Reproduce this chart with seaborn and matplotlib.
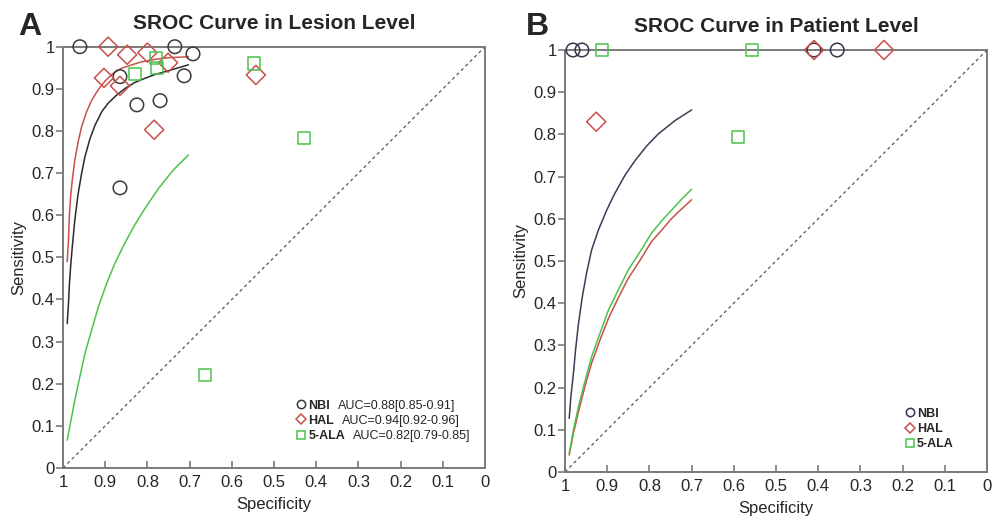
import numpy as np
import pandas as pd
import seaborn as sns
import matplotlib.pyplot as plt
from matplotlib.lines import Line2D

# ---- panel A: lesion level (specificity, sensitivity) ----
a_nbi_spec = [0.96, 0.865, 0.825, 0.77, 0.735, 0.865, 0.713, 0.692]
a_nbi_sens = [1.0, 0.929, 0.862, 0.872, 1.0, 0.665, 0.931, 0.983]
a_hal_spec = [0.893, 0.848, 0.80, 0.751, 0.903, 0.865, 0.784, 0.543]
a_hal_sens = [1.0, 0.981, 0.986, 0.962, 0.926, 0.907, 0.803, 0.933]
a_ala_spec = [0.829, 0.78, 0.777, 0.547, 0.429, 0.664]
a_ala_sens = [0.936, 0.974, 0.95, 0.96, 0.784, 0.221]

# SROC curves
a_nbi_curve_spec = [0.990, 0.987, 0.985, 0.982, 0.978, 0.972, 0.964, 0.956, 0.948, 0.936,
                    0.924, 0.908, 0.893, 0.873, 0.853, 0.830, 0.806, 0.782, 0.750, 0.703]
a_nbi_curve_sens = [0.343, 0.391, 0.434, 0.478, 0.525, 0.589, 0.652, 0.699, 0.739, 0.782,
                    0.814, 0.846, 0.866, 0.885, 0.901, 0.915, 0.925, 0.934, 0.943, 0.957]
a_hal_curve_spec = [0.990, 0.987, 0.985, 0.982, 0.978, 0.972, 0.964, 0.956, 0.944, 0.932,
                    0.916, 0.900, 0.881, 0.861, 0.837, 0.814, 0.782, 0.750, 0.703]
a_hal_curve_sens = [0.490, 0.541, 0.597, 0.644, 0.684, 0.731, 0.775, 0.810, 0.846, 0.873,
                    0.899, 0.919, 0.937, 0.949, 0.957, 0.964, 0.970, 0.974, 0.976]
a_ala_curve_spec = [0.990, 0.981, 0.972, 0.960, 0.948, 0.932, 0.916, 0.897, 0.877, 0.853,
                    0.830, 0.802, 0.774, 0.739, 0.703]
a_ala_curve_sens = [0.066, 0.114, 0.161, 0.217, 0.272, 0.328, 0.383, 0.437, 0.486, 0.535,
                    0.577, 0.622, 0.663, 0.707, 0.743]

# ---- panel B: patient level ----
b_nbi_spec = [0.981, 0.96, 0.41, 0.355]
b_nbi_sens = [1.0, 1.0, 1.0, 1.0]
b_hal_spec = [0.41, 0.244, 0.926]
b_hal_sens = [1.0, 1.0, 0.83]
b_ala_spec = [0.912, 0.557, 0.59]
b_ala_sens = [1.0, 1.0, 0.793]

b_nbi_curve_spec = [0.990, 0.986, 0.980, 0.975, 0.968, 0.959, 0.949, 0.937, 0.921, 0.901,
                    0.882, 0.858, 0.834, 0.806, 0.779, 0.739, 0.700]
b_nbi_curve_sens = [0.127, 0.179, 0.234, 0.289, 0.352, 0.415, 0.471, 0.526, 0.573, 0.621,
                    0.660, 0.703, 0.738, 0.773, 0.801, 0.833, 0.858]
b_hal_curve_spec = [0.990, 0.980, 0.968, 0.953, 0.937, 0.917, 0.897, 0.874, 0.850, 0.822,
                    0.795, 0.771, 0.747, 0.724, 0.700]
b_hal_curve_sens = [0.040, 0.092, 0.143, 0.202, 0.258, 0.313, 0.364, 0.412, 0.459, 0.502,
                    0.546, 0.573, 0.601, 0.623, 0.645]
b_ala_curve_spec = [0.990, 0.980, 0.968, 0.953, 0.937, 0.917, 0.897, 0.874, 0.850, 0.822,
                    0.795, 0.771, 0.747, 0.724, 0.700]
b_ala_curve_sens = [0.044, 0.100, 0.155, 0.214, 0.273, 0.329, 0.384, 0.431, 0.479, 0.522,
                    0.566, 0.595, 0.621, 0.646, 0.670]

auc_labels = ['AUC=0.88[0.85-0.91]', 'AUC=0.94[0.92-0.96]', 'AUC=0.82[0.79-0.85]']
groups = ['NBI', 'HAL', '5-ALA']

sns.set_theme(style='white')
plt.rcParams['font.family'] = ['Liberation Sans', 'DejaVu Sans']

red = '#c8504c'
green = '#4cc24c'

fig = plt.figure(figsize=(9.97, 5.29), dpi=100)
axA = fig.add_axes([0.0632, 0.1153, 0.4233, 0.7964])
axB = fig.add_axes([0.5667, 0.1078, 0.4233, 0.7977])


def draw_panel(ax, pts, curves, dark, curve_dark):
    # diagonal reference line
    ax.plot([1, 0], [0, 1], color='#555555', lw=0.9, ls=(0, (2.5, 2.5)))
    curve_cols = [curve_dark, red, green]
    for (cs, cy), c in zip(curves, curve_cols):
        df = pd.DataFrame({'spec': cs, 'sens': cy})
        sns.lineplot(data=df, x='spec', y='sens', sort=False, color=c, lw=1.1, ax=ax)
    markers = ['o', 'D', 's']
    sizes = [95, 95, 78]
    cols = [dark, red, green]
    for (xs, ys), m, s, c in zip(pts, markers, sizes, cols):
        df = pd.DataFrame({'spec': xs, 'sens': ys})
        sns.scatterplot(data=df, x='spec', y='sens', marker=m, s=s, color=c,
                        facecolor='none', edgecolor=c, linewidth=1.1, ax=ax,
                        clip_on=False, zorder=5)
    ax.set_xlim(1, 0)
    ax.set_ylim(0, 1)
    ticks = np.round(np.arange(0, 1.01, 0.1), 1)
    ticklabels = ['0'] + ['%.1f' % t for t in ticks[1:-1]] + ['1']
    ax.set_xticks(ticks)
    ax.set_xticklabels(ticklabels)
    ax.set_yticks(ticks)
    ax.set_yticklabels(ticklabels)
    for sp in ax.spines.values():
        sp.set_color('#7a7a7a')
        sp.set_linewidth(1.4)
    ax.tick_params(axis='x', direction='in', length=5, width=1.2, color='#7a7a7a',
                   labelsize=12, pad=5, bottom=True)
    ax.tick_params(axis='y', direction='out', length=5, width=1.2, color='#7a7a7a',
                   labelsize=12, pad=1, left=True)
    ax.set_xlabel('Specificity', fontsize=12, labelpad=5)
    ax.set_ylabel('Sensitivity', fontsize=12, labelpad=4)


draw_panel(axA,
           [(a_nbi_spec, a_nbi_sens), (a_hal_spec, a_hal_sens), (a_ala_spec, a_ala_sens)],
           [(a_nbi_curve_spec, a_nbi_curve_sens), (a_hal_curve_spec, a_hal_curve_sens),
            (a_ala_curve_spec, a_ala_curve_sens)],
           '#3a3a3a', '#2a2a2a')
draw_panel(axB,
           [(b_nbi_spec, b_nbi_sens), (b_hal_spec, b_hal_sens), (b_ala_spec, b_ala_sens)],
           [(b_nbi_curve_spec, b_nbi_curve_sens), (b_hal_curve_spec, b_hal_curve_sens),
            (b_ala_curve_spec, b_ala_curve_sens)],
           '#33364d', '#3a3d55')

axA.set_title('SROC Curve in Lesion Level', fontsize=15, fontweight='bold', pad=13)
axB.set_title('SROC Curve in Patient Level', fontsize=15, fontweight='bold', pad=13)
fig.text(0.018, 0.934, 'A', fontsize=23, fontweight='bold', va='baseline')
fig.text(0.527, 0.934, 'B', fontsize=23, fontweight='bold', va='baseline')


def make_handles(dark):
    return [Line2D([], [], ls='none', marker='o', ms=6, mfc='none', mec=dark, mew=1.1),
            Line2D([], [], ls='none', marker='D', ms=5.5, mfc='none', mec=red, mew=1.1),
            Line2D([], [], ls='none', marker='s', ms=5.2, mfc='none', mec=green, mew=1.1)]


legA = axA.legend(make_handles('#3a3a3a'), groups, loc='lower right', bbox_to_anchor=(0.68, 0.05),
                  frameon=False, prop={'weight': 'bold', 'size': 9}, handlelength=0.7,
                  handletextpad=0.2, labelspacing=0.25, borderaxespad=0)
legB = axB.legend(make_handles('#33364d'), groups, loc='lower left', bbox_to_anchor=(0.795, 0.04),
                  frameon=False, prop={'weight': 'bold', 'size': 9}, handlelength=0.7,
                  handletextpad=0.2, labelspacing=0.25, borderaxespad=0)

# AUC values next to the bold names in panel A legend
fig.canvas.draw()
inv = fig.transFigure.inverted()
for t, lab in zip(legA.get_texts(), auc_labels):
    bb = t.get_window_extent()
    x0, y0 = inv.transform((bb.x1 + 8, (bb.y0 + bb.y1) / 2))
    fig.text(x0, y0, lab, fontsize=9, va='center', ha='left')

fig.savefig('out.png', dpi=100)
